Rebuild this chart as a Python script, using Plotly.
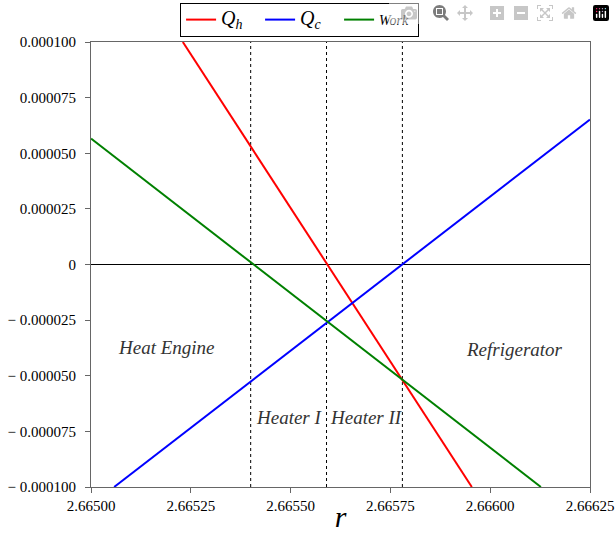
import plotly.graph_objects as go

# Data
r_qh = [2.66523, 2.665954]
v_qh = [0.000100, -0.000100]
r_qc = [2.665058, 2.66625]
v_qc = [-0.000100, 0.0000652]
r_w = [2.66500, 2.666127]
v_w = [0.0000566, -0.000100]
vlines = [2.66540, 2.66559, 2.66578]

xticks = [2.66500, 2.66525, 2.66550, 2.66575, 2.66600, 2.66625]
yticks = [0.0001, 0.000075, 0.00005, 0.000025, 0, -0.000025, -0.00005, -0.000075, -0.0001]
ytext = ["0.000100", "0.000075", "0.000050", "0.000025", "0",
         "\u2212 0.000025", "\u2212 0.000050", "\u2212 0.000075", "\u2212 0.000100"]

font = "'Liberation Serif', 'Times New Roman', Times, serif"

fig = go.Figure()
for xv in vlines:
    fig.add_trace(go.Scatter(x=[xv, xv], y=[-0.0001, 0.0001], mode="lines",
                             line=dict(color="black", width=1, dash="dot"),
                             showlegend=False, hoverinfo="skip"))
fig.add_trace(go.Scatter(x=[2.665, 2.66625], y=[0, 0], mode="lines",
                         line=dict(color="black", width=1), showlegend=False))
fig.add_trace(go.Scatter(x=r_qh, y=v_qh, mode="lines",
                         name="<span style='font-size:20px'><i>Q</i><sub><i>h</i></sub></span>",
                         line=dict(color="#ff0000", width=2)))
fig.add_trace(go.Scatter(x=r_qc, y=v_qc, mode="lines",
                         name="<span style='font-size:20px'><i>Q</i><sub><i>c</i></sub></span>",
                         line=dict(color="#0000ff", width=2)))
fig.add_trace(go.Scatter(x=r_w, y=v_w, mode="lines", name="<i>Work</i>",
                         line=dict(color="#008000", width=2)))

ann = [("Heat Engine", 2.665188, -0.0000373), ("Refrigerator", 2.66606, -0.0000382),
       ("Heater I", 2.665498, -0.0000688), ("Heater II", 2.665689, -0.0000688)]
annotations = [dict(x=x, y=y, text=f"<i>{t}</i>", showarrow=False, xref="x", yref="y",
                    font=dict(family=font, size=19, color="#333333")) for t, x, y in ann]

W, H = 615, 533
fig.update_layout(
    width=W, height=H,
    margin=dict(l=91, r=W - 590, t=42, b=H - 487, autoexpand=False),
    plot_bgcolor="white", paper_bgcolor="white",
    font=dict(family=font, size=15, color="black"),
    legend=dict(orientation="h", x=0.418, xanchor="center", y=1 - 3 / H, yanchor="top",
                yref="container", entrywidth=34, entrywidthmode="pixels",
                bordercolor="black", borderwidth=1, font=dict(family=font, size=14),
                tracegroupgap=0),
    annotations=annotations,
    xaxis=dict(range=[2.665, 2.66625], tickvals=xticks, ticktext=[f"{v:.5f}" for v in xticks],
               showgrid=False, zeroline=False, showline=True, mirror=True, linecolor="#666666",
               linewidth=1, ticks="outside", ticklen=5, tickcolor="#666666", automargin=False,
               ticklabeloverflow="allow",
               tickfont=dict(family=font, size=15),
               title=dict(text="<i>r</i>", font=dict(family=font, size=30), standoff=13)),
    yaxis=dict(range=[-0.0001, 0.0001], tickvals=yticks, ticktext=ytext,
               showgrid=False, zeroline=False, showline=True, mirror=True, linecolor="#666666",
               linewidth=1, ticks="outside", ticklen=5, tickcolor="#666666", automargin=False,
               ticklabelstandoff=6,
               tickfont=dict(family=font, size=15)),
)
fig.write_html("out.html",
               post_script="document.body.style.margin='0';document.body.style.overflow='hidden';")
